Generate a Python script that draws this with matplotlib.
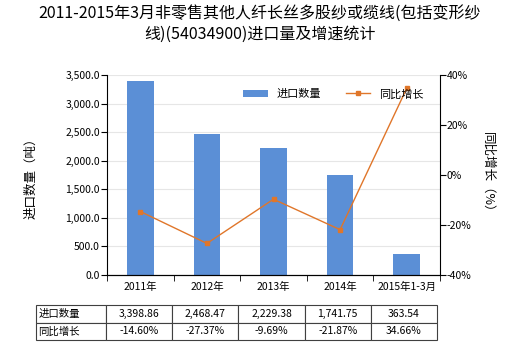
import numpy as np
import matplotlib
matplotlib.use('Agg')
import matplotlib.pyplot as plt
from matplotlib.ticker import FuncFormatter, FixedLocator

plt.rcParams['font.family'] = ['Noto Sans CJK SC', 'DejaVu Sans']

title = '2011-2015年3月非零售其他人纤长丝多股纱或缆线(包括变形纱\n线)(54034900)进口量及增速统计'
years = ['2011年', '2012年', '2013年', '2014年', '2015年1-3月']
qty = [3398.86, 2468.47, 2229.38, 1741.75, 363.54]
growth = [-14.60, -27.37, -9.69, -21.87, 34.66]

bar_color = '#5B8FD6'
line_color = '#E0762A'

fig = plt.figure(figsize=(5.2, 3.5), dpi=100)
ax = fig.add_axes([107 / 520, 1 - 275 / 350, 333 / 520, 200 / 350])
x = np.arange(len(years))

ax.bar(x, qty, width=0.4, color=bar_color, label='进口数量', zorder=2)
ax.set_xlim(-0.5, len(years) - 0.5)
ax.set_ylim(0, 3500)
ax.set_yticks(np.arange(0, 3501, 500))
ax.yaxis.set_major_formatter(FuncFormatter(lambda v, p: f'{v:,.1f}'))
ax.grid(axis='y', color='#E6E6E6', linewidth=0.8, zorder=0)
ax.set_xticks(x)
ax.set_xticklabels(years)
ax.xaxis.set_minor_locator(FixedLocator(np.arange(-0.5, len(years), 1)))
ax.tick_params(axis='x', which='major', length=0, labelsize=7.5, pad=5)
ax.tick_params(axis='x', which='minor', length=4)
ax.tick_params(axis='y', labelsize=7.5, length=4, pad=1)
ax.spines['top'].set_visible(False)
ax.spines['right'].set_visible(False)
ax.set_ylabel('进口数量（吨）', fontsize=9, labelpad=20)

ax2 = ax.twinx()
ax2.plot(x, growth, color=line_color, linewidth=1, marker='s', markersize=3.5,
         label='同比增长', zorder=3)
ax2.set_ylim(-40, 40)
ax2.set_yticks(np.arange(-40, 41, 20))
ax2.yaxis.set_major_formatter(FuncFormatter(lambda v, p: f'{v:.0f}%'))
ax2.tick_params(axis='y', labelsize=7.5, length=4, pad=1)
ax2.spines['top'].set_visible(False)
ax2.spines['left'].set_visible(False)
ax2.set_ylabel('同比增长（%）', fontsize=9, rotation=-90, labelpad=16)

h1, l1 = ax.get_legend_handles_labels()
h2, l2 = ax2.get_legend_handles_labels()
ax2.legend(h1 + h2, l1 + l2, loc='upper right', bbox_to_anchor=(0.98, 0.98), ncol=2,
           frameon=False, fontsize=8, handlelength=2.2, columnspacing=2.2)

fig.text(0.5, 0.985, title, ha='center', va='top', fontsize=11.5, linespacing=1.3)

# data table under the chart
cells = [['进口数量'] + [f'{v:,.2f}' for v in qty],
         ['同比增长'] + [f'{v:.2f}%' for v in growth]]
col_w = [70 / 401] + [66.2 / 401] * 5
tbl = ax.table(cellText=cells, colWidths=col_w, cellLoc='center',
               bbox=[-71 / 333, -65 / 200, 401 / 333, 35 / 200])
tbl.auto_set_font_size(False)
tbl.set_fontsize(7.5)
for (r, c), cell in tbl.get_celld().items():
    cell.set_edgecolor('#404040')
    cell.set_linewidth(0.8)
    if c == 0:
        cell.set_text_props(ha='left')
        cell.PAD = 0.03

fig.savefig('out.png', dpi=100)
